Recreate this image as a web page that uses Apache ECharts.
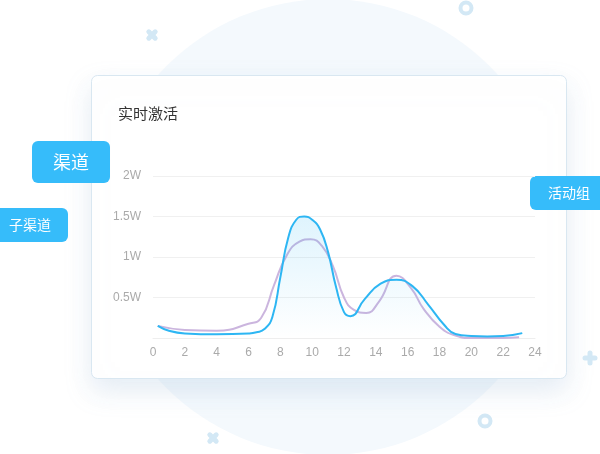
<!DOCTYPE html>
<html>
<head>
<meta charset="utf-8">
<script src="https://cdn.jsdelivr.net/npm/echarts@6/dist/echarts.min.js"></script>
<style>
html,body{margin:0;padding:0;background:#fff;}
#main{width:600px;height:454px;}
</style>
</head>
<body>
<div id="main"></div>
<script>
var title = '实时激活';
var badgeMain = '渠道';
var badgeSub = '子渠道';
var badgeRight = '活动组';
var xTicks = [0, 24, 2];
var yTicks = [0, 20000, 5000];
var blueX = [0.3, 1, 2, 4, 6, 6.5, 7, 7.5, 8, 8.5, 9, 9.5, 10, 10.5, 11, 11.5, 12, 12.4, 13.3, 14.3, 15.3, 16.3, 17.3, 18.3, 19, 20, 21, 22, 23.2];
var blueY = [1500, 900, 560, 450, 550, 700, 1100, 2600, 7500, 12400, 14600, 15000, 14600, 13400, 10600, 6300, 3200, 2700, 4800, 6700, 7200, 6400, 4100, 1600, 500, 250, 200, 250, 600];
var purpleX = [0.3, 2, 4, 6, 6.8, 7.6, 8.4, 9.2, 9.9, 10.6, 11.3, 12, 12.6, 13.4, 14.2, 15.3, 16.2, 17, 18, 19, 20, 21, 22, 23];
var purpleY = [1500, 1000, 900, 1750, 2500, 6500, 10200, 11900, 12200, 11400, 8900, 5000, 3500, 3100, 4500, 7700, 6200, 3600, 1400, 300, 0, 0, 0, 100];

function pairs(xs, ys) { return xs.map(function (x, i) { return [x, ys[i]]; }); }

var chart = echarts.init(document.getElementById('main'), null, {renderer: 'canvas'});
var FONT = '"Noto Sans CJK SC", "Noto Sans", sans-serif';
var NUMFONT = '"Liberation Sans", Arial, sans-serif';
var deco = '#d3e8f5';

function cross(cx, cy, s, rot) {
  return {
    type: 'group', x: cx, y: cy, rotation: rot, z: -90,
    children: [
      {type: 'rect', shape: {x: -s / 2, y: -2.5, width: s, height: 5, r: 2.5}, style: {fill: deco}},
      {type: 'rect', shape: {x: -2.5, y: -s / 2, width: 5, height: s, r: 2.5}, style: {fill: deco}}
    ]
  };
}
function ring(cx, cy) {
  return {type: 'circle', z: -90, shape: {cx: cx, cy: cy, r: 5.5}, style: {fill: 'none', stroke: deco, lineWidth: 4}};
}
function badge(x, y, w, h, text, size) {
  return {
    type: 'group', z: 200,
    children: [
      {type: 'rect', shape: {x: x, y: y, width: w, height: h, r: 6}, style: {fill: '#36bcfa'}},
      {type: 'text', style: {x: x + w / 2, y: y + h / 2, text: text, fill: '#fff', font: size + 'px ' + FONT, align: 'center', verticalAlign: 'middle'}}
    ]
  };
}

var option = {
  animation: false,
  backgroundColor: '#ffffff',
  title: {
    text: title, left: 113, top: 101,
    textStyle: {fontSize: 15, fontWeight: 'normal', color: '#333', fontFamily: FONT}
  },
  grid: {left: 153, right: 65, top: 176, bottom: 116},
  graphic: [
    {type: 'circle', z: -100, shape: {cx: 328, cy: 227, r: 228}, style: {fill: '#f4f9fd'}},
    cross(152, 35, 14, Math.PI / 4),
    cross(213, 438, 14, Math.PI / 4),
    cross(590, 358, 15, 0),
    ring(466, 8),
    ring(485, 421),
    {type: 'rect', z: -50, shape: {x: 91.5, y: 75.5, width: 475, height: 303, r: 6},
      style: {fill: '#ffffff', stroke: '#d9e7f1', lineWidth: 1, shadowBlur: 26, shadowOffsetY: 12, shadowColor: 'rgba(150,185,215,0.25)'}},
    badge(32, 141, 78, 42, badgeMain, 18),
    badge(-8, 208, 76, 34, badgeSub, 14),
    badge(530, 176, 78, 34, badgeRight, 14)
  ],
  xAxis: {
    type: 'value', min: xTicks[0], max: xTicks[1], interval: xTicks[2],
    axisLine: {show: true, lineStyle: {color: '#eeeeee'}},
    axisTick: {show: false},
    splitLine: {show: false},
    axisLabel: {color: '#aaaaaa', fontSize: 12, margin: 9, fontFamily: NUMFONT}
  },
  yAxis: {
    type: 'value', min: yTicks[0], max: yTicks[1], interval: yTicks[2],
    axisLine: {show: false},
    axisTick: {show: false},
    splitLine: {lineStyle: {color: '#f0f0f0'}},
    axisLabel: {
      color: '#aaaaaa', fontSize: 12, margin: 12, fontFamily: NUMFONT,
      formatter: function (v) { return v === 0 ? '' : (v / 10000) + 'W'; }
    }
  },
  series: [
    {
      type: 'line', smooth: 0.5, symbol: 'none', z: 3,
      data: pairs(purpleX, purpleY),
      lineStyle: {color: '#cbb5de', width: 2}
    },
    {
      type: 'line', smooth: 0.5, symbol: 'none', z: 4,
      data: pairs(blueX, blueY),
      lineStyle: {color: '#2db6f3', width: 2},
      areaStyle: {
        color: new echarts.graphic.LinearGradient(0, 0, 0, 1, [
          {offset: 0, color: 'rgba(45,182,243,0.22)'},
          {offset: 1, color: 'rgba(45,182,243,0.0)'}
        ])
      }
    }
  ]
};
chart.setOption(option);
</script>
</body>
</html>
